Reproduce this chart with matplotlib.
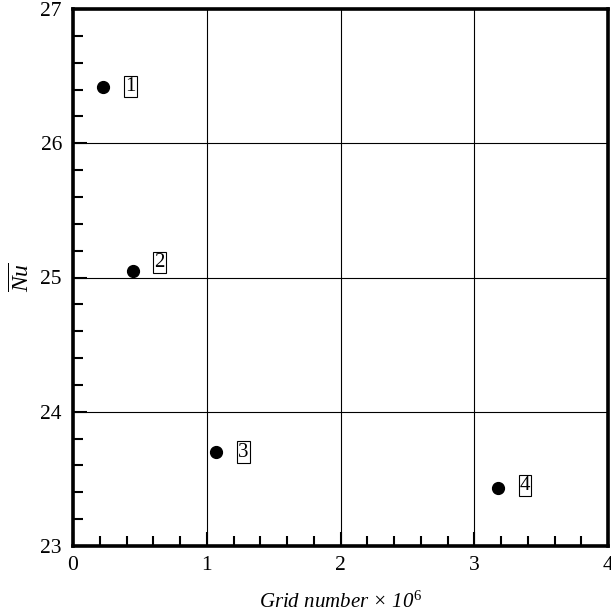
import matplotlib
matplotlib.use("Agg")
import matplotlib.pyplot as plt
from matplotlib.ticker import MultipleLocator

plt.rcParams['font.family'] = ['Liberation Serif', 'DejaVu Serif']
plt.rcParams['mathtext.fontset'] = 'custom'
plt.rcParams['mathtext.rm'] = 'Liberation Serif'
plt.rcParams['mathtext.it'] = 'Liberation Serif:italic'

# Grid independence study: mean Nusselt number vs. mesh size
grid_millions = [0.228, 0.445, 1.07, 3.175]
nu_mean = [26.42, 25.05, 23.70, 23.43]
case_labels = ['1', '2', '3', '4']
label_dy = [0.0, 0.065, 0.0, 0.02]

fig = plt.figure(figsize=(6.11, 6.16), dpi=100)
ax = fig.add_axes([73/611, 1-546/616, 535/611, 537/616])

ax.plot(grid_millions, nu_mean, 'o', color='black', markersize=8.5, zorder=3)
for x, y, t, dy in zip(grid_millions, nu_mean, case_labels, label_dy):
    ax.annotate(t, (x, y + dy), xytext=(22, 0), textcoords='offset pixels',
                fontsize=15, va='center', ha='left',
                bbox=dict(boxstyle='square,pad=0.05', fc='white', ec='black', lw=0.8))

ax.set_xlim(0, 4)
ax.set_ylim(23, 27)
ax.xaxis.set_major_locator(MultipleLocator(1))
ax.xaxis.set_minor_locator(MultipleLocator(0.2))
ax.yaxis.set_major_locator(MultipleLocator(1))
ax.yaxis.set_minor_locator(MultipleLocator(0.2))
ax.tick_params(which='both', direction='in', top=False, right=False, width=1.5)
ax.tick_params(which='major', length=10, labelsize=15.5)
ax.tick_params(axis='x', which='major', pad=7)
ax.tick_params(axis='y', which='major', pad=8)
ax.tick_params(which='minor', length=7)
ax.grid(True, which='major', color='black', lw=0.8)
for s in ax.spines.values():
    s.set_linewidth(2.6)

ax.set_xlabel(r'Grid number × 10$^{\mathit{6}}$', fontsize=15, style='italic', labelpad=12)
ax.set_ylabel(r'$\overline{\mathit{Nu}}$', fontsize=17, labelpad=4)

fig.savefig('out.png', dpi=100)
